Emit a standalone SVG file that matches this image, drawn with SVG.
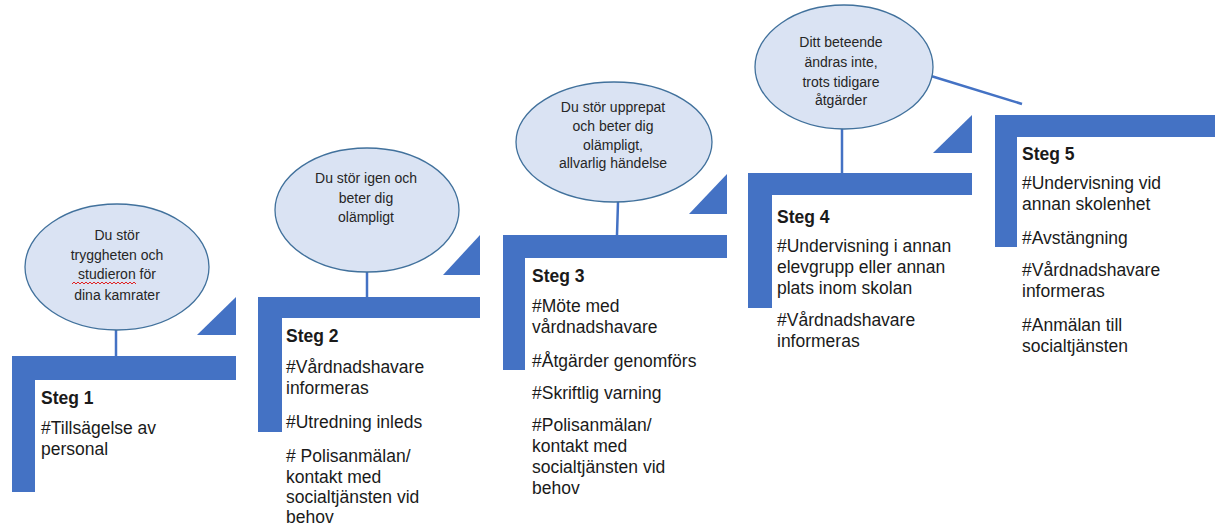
<svg xmlns="http://www.w3.org/2000/svg" width="1215" height="532" viewBox="0 0 1215 532">
<style>
.bar{fill:#4472c4}
.bub{fill:#dae3f3;stroke:#41719c;stroke-width:1.3}
.con{stroke:#4472c4;stroke-width:2.5;fill:none}
.bt{font-family:"Liberation Sans",Arial,sans-serif;font-size:14px;fill:#262626;text-anchor:middle}
.t{font-family:"Liberation Sans",Arial,sans-serif;font-size:17.5px;fill:#1a1a1a}
.h{font-weight:bold}
</style>
<rect width="1215" height="532" fill="#ffffff"/>
<g id="connectors">
<line class="con" x1="116" y1="330" x2="116" y2="356"/>
<line class="con" x1="367" y1="272" x2="367" y2="297"/>
<line class="con" x1="618" y1="202" x2="617" y2="235"/>
<line class="con" x1="842" y1="129" x2="842" y2="173"/>
<line class="con" x1="931" y1="76" x2="1022" y2="104"/>
</g>
<g id="step1">
<path class="bar" d="M12,356 H236 V380 H35 V492 H12 Z"/>
<polygon class="bar" points="197,335 236,297 236,335"/>
<ellipse class="bub" cx="117" cy="267" rx="92" ry="63"/>
<text class="bt" x="117" y="240">Du stör</text>
<text class="bt" x="117" y="260">tryggheten och</text>
<text class="bt" x="117" y="279">studieron för</text>
<text class="bt" x="117" y="300">dina kamrater</text>
<path d="M72,284 l2,-2 l2,2 l2,-2 l2,2 l2,-2 l2,2 l2,-2 l2,2 l2,-2 l2,2 l2,-2 l2,2 l2,-2 l2,2 l2,-2 l2,2 l2,-2 l2,2 l2,-2 l2,2 l2,-2 l2,2 l2,-2 l2,2 l2,-2 l2,2 l2,-2 l2,2 l2,-2 l2,2 l2,-2 l2,2" fill="none" stroke="#e02020" stroke-width="1"/>
<text class="t h" x="41" y="404">Steg 1</text>
<text class="t" x="41" y="434">#Tillsägelse av</text>
<text class="t" x="41" y="455">personal</text>
</g>
<g id="step2">
<path class="bar" d="M258,297 H480 V318 H282 V432 H258 Z"/>
<polygon class="bar" points="443,275 480,235 480,275"/>
<ellipse class="bub" cx="367" cy="210" rx="92" ry="62"/>
<text class="bt" x="366" y="183">Du stör igen och</text>
<text class="bt" x="366" y="203">beter dig</text>
<text class="bt" x="366" y="222">olämpligt</text>
<text class="t h" x="286" y="342">Steg 2</text>
<text class="t" x="286" y="373">#Vårdnadshavare</text>
<text class="t" x="286" y="394">informeras</text>
<text class="t" x="286" y="428">#Utredning inleds</text>
<text class="t" x="286" y="462"># Polisanmälan/</text>
<text class="t" x="286" y="483">kontakt med</text>
<text class="t" x="286" y="503">socialtjänsten vid</text>
<text class="t" x="286" y="523">behov</text>
</g>
<g id="step3">
<path class="bar" d="M503,235 H727 V258 H525 V370 H503 Z"/>
<polygon class="bar" points="689,214 727,174 727,214"/>
<ellipse class="bub" cx="614" cy="142" rx="98" ry="60"/>
<text class="bt" x="613" y="112">Du stör upprepat</text>
<text class="bt" x="613" y="131">och beter dig</text>
<text class="bt" x="613" y="150">olämpligt,</text>
<text class="bt" x="613" y="168">allvarlig händelse</text>
<text class="t h" x="532" y="282">Steg 3</text>
<text class="t" x="532" y="312">#Möte med</text>
<text class="t" x="532" y="333">vårdnadshavare</text>
<text class="t" x="532" y="367">#Åtgärder genomförs</text>
<text class="t" x="532" y="399">#Skriftlig varning</text>
<text class="t" x="532" y="431">#Polisanmälan/</text>
<text class="t" x="532" y="452">kontakt med</text>
<text class="t" x="532" y="473">socialtjänsten vid</text>
<text class="t" x="532" y="494">behov</text>
</g>
<g id="step4">
<path class="bar" d="M748,173 H972 V195 H772 V308 H748 Z"/>
<polygon class="bar" points="933,153 972,115 972,153"/>
<ellipse class="bub" cx="844" cy="67" rx="89" ry="62"/>
<text class="bt" x="841" y="47">Ditt beteende</text>
<text class="bt" x="841" y="67">ändras inte,</text>
<text class="bt" x="841" y="87">trots tidigare</text>
<text class="bt" x="841" y="105">åtgärder</text>
<text class="t h" x="777" y="223">Steg 4</text>
<text class="t" x="777" y="252">#Undervisning i annan</text>
<text class="t" x="777" y="273">elevgrupp eller annan</text>
<text class="t" x="777" y="294">plats inom skolan</text>
<text class="t" x="777" y="326">#Vårdnadshavare</text>
<text class="t" x="777" y="347">informeras</text>
</g>
<g id="step5">
<path class="bar" d="M995,115 H1215 V137 H1017 V247 H995 Z"/>
<text class="t h" x="1022" y="160">Steg 5</text>
<text class="t" x="1022" y="189">#Undervisning vid</text>
<text class="t" x="1022" y="210">annan skolenhet</text>
<text class="t" x="1022" y="244">#Avstängning</text>
<text class="t" x="1022" y="276">#Vårdnadshavare</text>
<text class="t" x="1022" y="297">informeras</text>
<text class="t" x="1022" y="331">#Anmälan till</text>
<text class="t" x="1022" y="352">socialtjänsten</text>
</g>
</svg>
